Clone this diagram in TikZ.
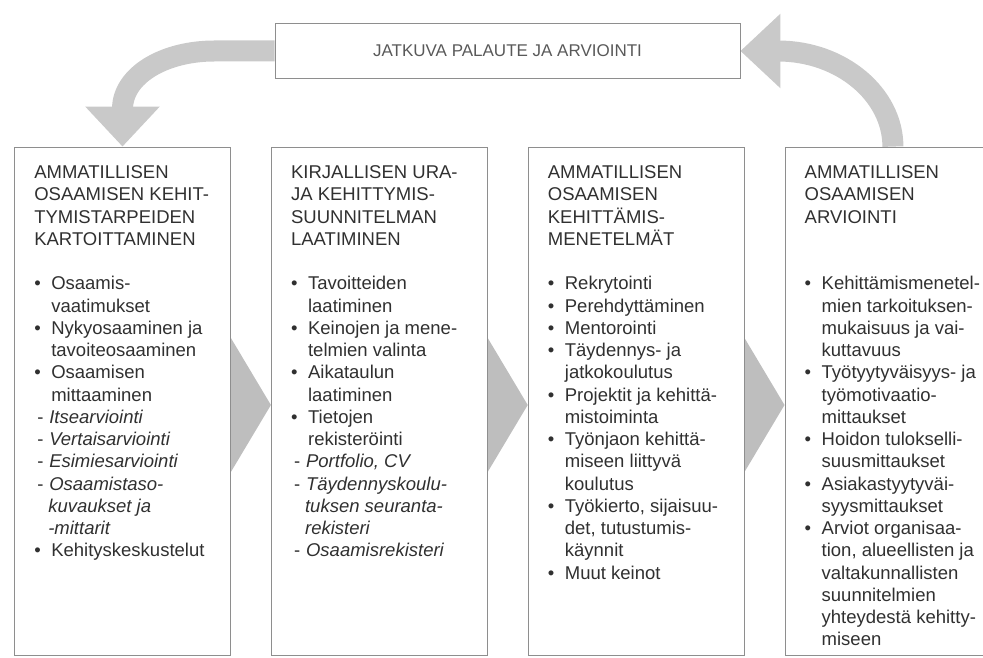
\documentclass[tikz,border=0pt]{standalone}
\usepackage{fontspec}
\setmainfont{Liberation Sans}
\usetikzlibrary{arrows.meta, positioning, backgrounds}

\definecolor{linegray}{HTML}{8E8E8E}
\definecolor{bandgray}{HTML}{C9C9C9}
\definecolor{chevgray}{HTML}{BEBEBE}
\definecolor{txtgray}{HTML}{303030}

% list lines: bullet, continuation, italic dash, dash continuation
\newcommand{\bi}[1]{\makebox[17pt][l]{\textbullet}#1}
\newcommand{\ci}[1]{\hspace*{17pt}#1}
\newcommand{\di}[1]{\makebox[15pt][l]{\hspace{3pt}-}\textit{#1}}
\newcommand{\dc}[1]{\hspace*{14pt}\textit{#1}}

\begin{document}
\begin{tikzpicture}[x=1pt, y=1pt, node distance=40pt,
    stage/.style={draw=linegray, line width=0.8pt, minimum width=216pt, minimum height=508pt, inner sep=0pt},
    stagetxt/.style={anchor=north west, inner sep=0pt, align=left, text=txtgray, font=\fontsize{18.5}{22.25}\selectfont},
    palaute/.style={draw=bandgray, line width=21pt, -{Triangle[width=72pt, length=40pt]}},
    chev/.style={fill=chevgray}]
    \useasboundingbox (0,0) rectangle (983,658);
    \node[draw=linegray, line width=0.8pt, minimum width=465pt, minimum height=55pt, text=black!65, font=\fontsize{17}{20}\selectfont] (pal) at (507.5,607) {JATKUVA PALAUTE JA ARVIOINTI};
    \node[stage] (kart) at (122.5,257) {};
    \node[stage, right=of kart] (suun) {};
    \node[stage, right=of suun] (mene) {};
    \node[stage, right=of mene] (arvi) {};

    \node[stagetxt] (karttxt) at ([xshift=20pt,yshift=-19pt]kart.north west) {AMMATILLISEN\\ OSAAMISEN KEHIT-\\ TYMISTARPEIDEN\\ KARTOITTAMINEN\\[22.25pt]
        \bi{Osaamis-}\\ \ci{vaatimukset}\\ \bi{Nykyosaaminen ja}\\ \ci{tavoiteosaaminen}\\
        \bi{Osaamisen}\\ \ci{mittaaminen}\\ \di{Itsearviointi}\\ \di{Vertaisarviointi}\\
        \di{Esimiesarviointi}\\ \di{Osaamistaso-}\\ \dc{kuvaukset ja}\\ \dc{-mittarit}\\
        \bi{Kehityskeskustelut}};
    \node[stagetxt] (suuntxt) at ([xshift=20pt,yshift=-19pt]suun.north west) {KIRJALLISEN URA-\\ JA KEHITTYMIS-\\ SUUNNITELMAN\\ LAATIMINEN\\[22.25pt]
        \bi{Tavoitteiden}\\ \ci{laatiminen}\\ \bi{Keinojen ja mene-}\\ \ci{telmien valinta}\\
        \bi{Aikataulun}\\ \ci{laatiminen}\\ \bi{Tietojen}\\ \ci{rekisteröinti}\\
        \di{Portfolio, CV}\\ \di{Täydennyskoulu-}\\ \dc{tuksen seuranta-}\\ \dc{rekisteri}\\
        \di{Osaamisrekisteri}};
    \node[stagetxt] (menetxt) at ([xshift=20pt,yshift=-19pt]mene.north west) {AMMATILLISEN\\ OSAAMISEN\\ KEHITTÄMIS-\\ MENETELMÄT\\[22.25pt]
        \bi{Rekrytointi}\\ \bi{Perehdyttäminen}\\ \bi{Mentorointi}\\ \bi{Täydennys- ja}\\
        \ci{jatkokoulutus}\\ \bi{Projektit ja kehittä-}\\ \ci{mistoiminta}\\ \bi{Työnjaon kehittä-}\\
        \ci{miseen liittyvä}\\ \ci{koulutus}\\ \bi{Työkierto, sijaisuu-}\\ \ci{det, tutustumis-}\\
        \ci{käynnit}\\ \bi{Muut keinot}};
    \node[stagetxt] (arvitxt) at ([xshift=20pt,yshift=-19pt]arvi.north west) {AMMATILLISEN\\ OSAAMISEN\\ ARVIOINTI\\[44.5pt]
        \bi{Kehittämismenetel-}\\ \ci{mien tarkoituksen-}\\ \ci{mukaisuus ja vai-}\\ \ci{kuttavuus}\\
        \bi{Työtyytyväisyys- ja}\\ \ci{työmotivaatio-}\\ \ci{mittaukset}\\ \bi{Hoidon tulokselli-}\\
        \ci{suusmittaukset}\\ \bi{Asiakastyytyväi-}\\ \ci{syysmittaukset}\\ \bi{Arviot organisaa-}\\
        \ci{tion, alueellisten ja}\\ \ci{valtakunnallisten}\\ \ci{suunnitelmien}\\ \ci{yhteydestä kehitty-}\\
        \ci{miseen}};

    \begin{scope}[on background layer]
        \draw[palaute] (pal.west) -- ++(-60,0) .. controls +(-51,0) and +(0,71) .. (kart.north);
        \draw[palaute] (arvi.north) .. controls +(0,52) and +(101,0) .. (pal.east);
        \fill[chev] ([yshift=63pt]kart.east) -- ([yshift=-4pt]suun.west) -- ([yshift=-71pt]kart.east) -- cycle;
        \fill[chev] ([yshift=63pt]suun.east) -- ([yshift=-4pt]mene.west) -- ([yshift=-71pt]suun.east) -- cycle;
        \fill[chev] ([yshift=63pt]mene.east) -- ([yshift=-4pt]arvi.west) -- ([yshift=-71pt]mene.east) -- cycle;
    \end{scope}
\end{tikzpicture}
\end{document}
